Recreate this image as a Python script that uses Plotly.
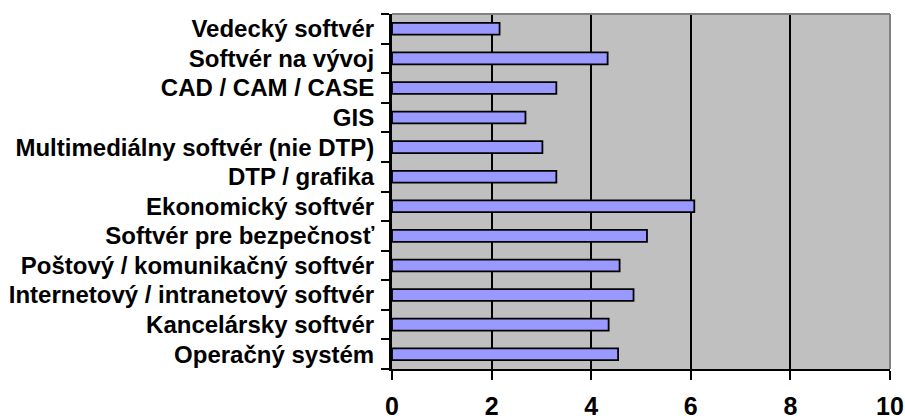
import plotly.graph_objects as go

# Software categories, listed bottom to top
categories = [
    "Operačný systém",
    "Kancelársky softvér",
    "Internetový / intranetový softvér",
    "Poštový / komunikačný softvér",
    "Softvér pre bezpečnosť",
    "Ekonomický softvér",
    "DTP / grafika",
    "Multimediálny softvér (nie DTP)",
    "GIS",
    "CAD / CAM / CASE",
    "Softvér na vývoj",
    "Vedecký softvér",
]
values = [4.54, 4.35, 4.85, 4.57, 5.12, 6.07, 3.30, 3.02, 2.68, 3.30, 4.33, 2.16]
x_ticks = [0, 2, 4, 6, 8, 10]

font_family = "Liberation Sans, Arial, sans-serif"

fig = go.Figure(
    go.Bar(
        x=values,
        y=categories,
        orientation="h",
        marker=dict(color="#9999FF", line=dict(color="black", width=1.8)),
        hoverinfo="x+y",
    )
)

fig.update_layout(
    width=905,
    height=420,
    margin=dict(l=392, r=15, t=14, b=51),
    paper_bgcolor="white",
    plot_bgcolor="#C0C0C0",
    bargap=0.6,
    showlegend=False,
    font=dict(family=font_family, color="black"),
    shapes=[
        # grey frame on the top and right sides of the plot area
        dict(type="line", xref="paper", yref="paper", x0=0, x1=1, y0=1, y1=1,
             line=dict(color="#808080", width=2)),
        dict(type="line", xref="paper", yref="paper", x0=1, x1=1, y0=0, y1=1,
             line=dict(color="#808080", width=2)),
    ],
)

fig.update_xaxes(
    range=[0, 10],
    tickmode="array",
    tickvals=x_ticks,
    ticktext=[str(v) for v in x_ticks],
    automargin=False,
    showgrid=True,
    gridcolor="black",
    gridwidth=2,
    zeroline=False,
    showline=True,
    linecolor="black",
    linewidth=2,
    ticks="outside",
    ticklen=9,
    tickwidth=2,
    tickcolor="black",
    ticklabelstandoff=5,
    tickfont=dict(family=font_family, size=25, color="black", weight="bold"),
)

fig.update_yaxes(
    type="category",
    categoryorder="array",
    categoryarray=categories,
    tickmode="array",
    tickvals=categories,
    ticktext=categories,
    automargin=False,
    showgrid=False,
    zeroline=False,
    showline=True,
    linecolor="black",
    linewidth=3,
    ticks="outside",
    tickson="boundaries",
    ticklen=8,
    tickwidth=2,
    tickcolor="black",
    ticklabelstandoff=10,
    tickfont=dict(family=font_family, size=24, color="black", weight="bold"),
)

fig.write_html("out.html")
